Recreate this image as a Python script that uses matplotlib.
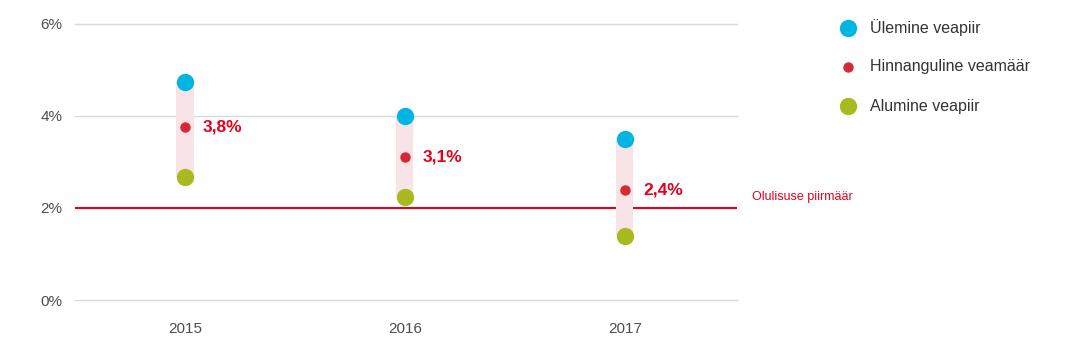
import matplotlib.pyplot as plt
from matplotlib.lines import Line2D

# data
years = ['2015', '2016', '2017']
upper = [4.74, 4.0, 3.5]
estimate = [3.76, 3.11, 2.39]
lower = [2.67, 2.24, 1.39]
labels = ['3,8%', '3,1%', '2,4%']
threshold = 2.0
yticks = [0, 2, 4, 6]
legend_labels = ['Ülemine veapiir', 'Hinnanguline veamäär', 'Alumine veapiir']

plt.rcParams['font.family'] = ['Liberation Sans', 'DejaVu Sans']

blue = '#00b5e2'
red = '#d42a35'
olive = '#a9b920'
bright_red = '#e5001c'
band = '#f8e4e7'

W, H = 1075, 361
fig = plt.figure(figsize=[W / 100, H / 100], dpi=100)
ax = fig.add_axes([75/W, 1 - 300/H, (737-75)/W, 276/H])

x = list(range(len(years)))

# grid
for t in yticks:
    if t != threshold:
        ax.axhline(t, color='#d9d9d9', linewidth=1, zorder=0, clip_on=False)
ax.axhline(threshold, color=bright_red, linewidth=1.5, zorder=1)

# band between bounds
ax.bar(x, [u - l for u, l in zip(upper, lower)], bottom=lower,
       width=0.078, color=band, zorder=2)

ax.plot(x, upper, 'o', color=blue, markersize=12.5, markeredgewidth=0, zorder=3)
ax.plot(x, lower, 'o', color=olive, markersize=12.5, markeredgewidth=0, zorder=3)
ax.plot(x, estimate, 'o', color=red, markersize=7.5, markeredgewidth=0, zorder=3)

for xi, yi, lab in zip(x, estimate, labels):
    ax.annotate(lab, (xi, yi), xytext=(13, 0), textcoords='offset points',
                ha='left', va='center', color=bright_red, fontsize=12.5,
                fontweight='bold')

ax.text(2.577, threshold + 0.23, 'Olulisuse piirmäär', color=bright_red,
        fontsize=9, ha='left', va='center', clip_on=False)

ax.set_xlim(-0.5, 2.51)
ax.set_ylim(0, 6)
ax.set_xticks(x)
ax.set_xticklabels(years)
ax.set_yticks(yticks)
ax.set_yticklabels([f'{t}%' for t in yticks])
ax.tick_params(length=0, labelsize=11, colors='#4d4d4d')
ax.tick_params(axis='y', pad=9)
ax.tick_params(axis='x', pad=16)
for s in ax.spines.values():
    s.set_visible(False)

# legend, drawn by hand
leg_colors = [blue, red, olive]
leg_sizes = [12.5, 7.5, 12.5]
for i, (lab, c, ms) in enumerate(zip(legend_labels, leg_colors, leg_sizes)):
    yy = 1 - (28 + 39 * i) / H
    fig.add_artist(Line2D([848 / W], [yy], marker='o', linestyle='', color=c,
                          markersize=ms, markeredgewidth=0,
                          transform=fig.transFigure))
    fig.text(870 / W, yy, lab, fontsize=11.5, color='#333333',
             ha='left', va='center')

fig.savefig('out.png', dpi=100)
